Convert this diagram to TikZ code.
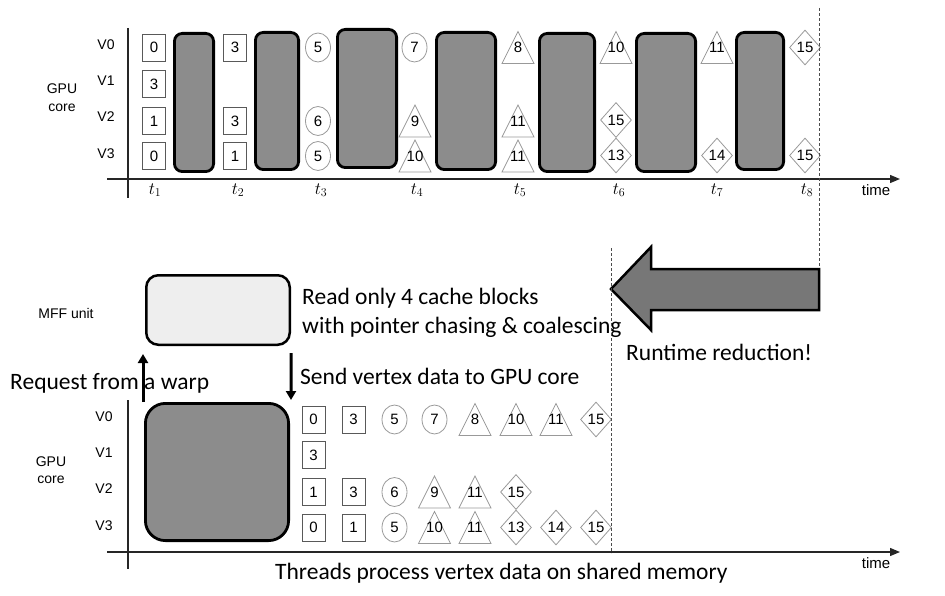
\documentclass[tikz,border=0pt]{standalone}
\usepackage[no-math]{fontspec}
\setmainfont{Liberation Sans}
\newfontfamily\calib{Carlito}
\usetikzlibrary{shapes.geometric,arrows.meta}

\definecolor{blockgray}{HTML}{8C8C8C}
\definecolor{arrowgray}{HTML}{777777}
\definecolor{unitfill}{HTML}{EEEEEE}

\tikzset{
  lbl/.style={font=\fontsize{14}{18}\selectfont, inner sep=0},
  num/.style={font=\fontsize{15}{15}\selectfont, inner sep=0},
  sqbox/.style={rectangle, draw=black!65, line width=0.8, minimum width=23, minimum height=27, inner sep=0, font=\fontsize{15}{15}\selectfont},
  circbox/.style={ellipse, draw=black!40, line width=0.8, minimum width=25, minimum height=29, inner sep=0, font=\fontsize{15}{15}\selectfont},
  diabox/.style={diamond, draw=black!40, line width=0.8, minimum width=31, minimum height=35, inner sep=0, font=\fontsize{15}{15}\selectfont},
  triline/.style={draw=black!40, line width=0.8},
  gblock/.style={rectangle, draw=black, line width=2.8, fill=blockgray, rounded corners=8, inner sep=0},
  axisline/.style={draw=black!85, line width=1.3},
  axisarrow/.style={axisline, -{Triangle[length=10,width=8]}},
  dashline/.style={draw=black!70, line width=1, dash pattern=on 3pt off 2pt},
  callout/.style={font=\calib\fontsize{23.5}{28}\selectfont, inner sep=0, anchor=base west},
  tlabel/.style={font=\fontsize{18.5}{20}\selectfont, inner sep=0},
  blkarrow/.style={draw=black, line width=3, -{Triangle[length=9,width=10]}},
}

% triangle marker: name, x, row centre, text
\newcommand\trimark[4]{%
  \draw[triline] (#2-16,#3+16) -- (#2,#3-16) -- (#2+16,#3+16) -- cycle;
  \node[num] (#1) at (#2,#3) {#4};}
% rounded busy block: name, x1, y1, x2, y2
\newcommand\busyblock[5]{%
  \node[gblock, minimum width={#4-#2-2.8}, minimum height={#5-#3-2.8}] (#1) at ({(#2+#4)/2},{(#3+#5)/2}) {};}

\begin{document}
\begin{tikzpicture}[x=1pt,y=-1pt]
\useasboundingbox (0,0) rectangle (945,596);

% ---------------- upper timeline ----------------
\coordinate (ta0) at (107,179);
\coordinate (ta1) at (900,179);
\coordinate (tv0) at (128,28);
\coordinate (tv1) at (128,198);
\draw[axisarrow] (ta0) -- (ta1);
\draw[axisline] (tv0) -- (tv1);

\node[lbl] (tV0) at (106,45) {V0};
\node[lbl] (tV1) at (106,81) {V1};
\node[lbl] (tV2) at (106,117) {V2};
\node[lbl] (tV3) at (106,154) {V3};
\node[lbl, align=center] (tgpu) at (62,98) {GPU\\core};

\foreach \n/\x in {1/155,2/238,3/321,4/417,5/520,6/619,7/717,8/807}
  \node[tlabel] (tt\n) at (\x,190) {$t_{\n}$};
\node[lbl, font=\fontsize{15}{18}\selectfont] (ttime) at (876,190) {time};

% busy periods
\busyblock{b1}{173}{32}{215}{173}
\busyblock{b2}{254}{31}{300}{171}
\busyblock{b3}{336}{28}{398}{169}
\busyblock{b4}{435}{31}{497}{171}
\busyblock{b5}{538}{32}{596}{173}
\busyblock{b6}{635}{32}{697}{173}
\busyblock{b7}{735}{31}{785}{171}

% t1
\node[sqbox] (u11) at (154,47.5) {0};
\node[sqbox] (u12) at (154,84) {3};
\node[sqbox] (u13) at (154,121) {1};
\node[sqbox] (u14) at (154,156) {0};
% t2
\node[sqbox] (u21) at (235,47.5) {3};
\node[sqbox] (u23) at (235,121) {3};
\node[sqbox] (u24) at (235,156) {1};
% t3
\node[circbox] (u31) at (318,47.5) {5};
\node[circbox] (u33) at (318,121) {6};
\node[circbox] (u34) at (318,156) {5};
% t4
\node[circbox] (u41) at (414.5,47.5) {7};
\trimark{u43}{415}{121}{9}
\trimark{u44}{415}{156}{10}
% t5
\trimark{u51}{518}{47.5}{8}
\trimark{u53}{518}{121}{11}
\trimark{u54}{518}{156}{11}
% t6
\trimark{u61}{616}{47.5}{10}
\node[diabox] (u63) at (616,120) {15};
\node[diabox] (u64) at (616,155.5) {13};
% t7
\trimark{u71}{717}{47.5}{11}
\node[diabox] (u74) at (717,155.5) {14};
% t8
\node[diabox] (u81) at (805,47.5) {15};
\node[diabox] (u84) at (805,155.5) {15};

% end of the original run
\coordinate (d0) at (819,8);
\coordinate (d1) at (819,268);
\draw[dashline] (d0) -- (d1);

% ---------------- runtime reduction arrow ----------------
\draw[draw=black, line width=2.5, fill=arrowgray, line join=miter]
  (611,289) -- (651,247) -- (651,269) -- (819,269) -- (819,310) -- (651,310) -- (651,330) -- cycle;
\node[callout] (rt) at (626,360) {Runtime reduction!};

% ---------------- MFF unit ----------------
\node[rectangle, draw=black, line width=2.5, fill=unitfill, rounded corners=12,
      minimum width=143.5, minimum height=69.5, inner sep=0] (mff) at (218,310) {};
\node[lbl, font=\fontsize{14}{16}\selectfont] (mfflbl) at (66,313) {MFF unit};
\node[callout] (rd1) at (302,304) {Read only 4 cache blocks};
\node[callout] (rd2) at (302,333) {with pointer chasing \& coalescing};

\node[callout] (req) at (10,389) {Request from a warp};
\node[callout] (snd) at (300,384) {Send vertex data to GPU core};

% ---------------- lower timeline ----------------
\coordinate (ba0) at (107,552);
\coordinate (ba1) at (900,552);
\coordinate (bv0) at (128,400);
\coordinate (bv1) at (128,569);
\draw[axisarrow] (ba0) -- (ba1);
\draw[axisline] (bv0) -- (bv1);

\node[lbl] (bV0) at (104,417) {V0};
\node[lbl] (bV1) at (104,453) {V1};
\node[lbl] (bV2) at (104,489) {V2};
\node[lbl] (bV3) at (104,526) {V3};
\node[lbl, align=center, font=\fontsize{14}{17}\selectfont] (bgpu) at (51,470) {GPU\\core};
\node[lbl, font=\fontsize{15}{18}\selectfont] (btime) at (876,563) {time};

\node[gblock, rounded corners=20, minimum width=143.2, minimum height=137.2] (core) at (217,472) {};

% request and reply between the core and the MFF unit
\draw[blkarrow] ([xshift=-1]core.north west) -- ([xshift=-2,yshift=-8]mff.south west);
\draw[blkarrow] ([yshift=-7]mff.south east) -- ([xshift=1,yshift=2]core.north east);

% V0
\node[sqbox] (w11) at (313.5,419.5) {0};
\node[sqbox] (w12) at (353.5,419.5) {3};
\node[circbox] (w13) at (394.5,419.5) {5};
\node[circbox] (w14) at (434.5,419.5) {7};
\trimark{w15}{475}{419.5}{8}
\trimark{w16}{516}{419.5}{10}
\trimark{w17}{556}{419.5}{11}
\node[diabox] (w18) at (596,419.5) {15};
% V1
\node[sqbox] (w21) at (313.5,455) {3};
% V2
\node[sqbox] (w31) at (313.5,492) {1};
\node[sqbox] (w32) at (353.5,492) {3};
\node[circbox] (w33) at (394.5,492) {6};
\trimark{w34}{434.5}{492}{9}
\trimark{w35}{475}{492}{11}
\node[diabox] (w36) at (516,492) {15};
% V3
\node[sqbox] (w41) at (313.5,527.5) {0};
\node[sqbox] (w42) at (353.5,527.5) {1};
\node[circbox] (w43) at (394.5,527.5) {5};
\trimark{w44}{434.5}{527.5}{10}
\trimark{w45}{475}{527.5}{11}
\node[diabox] (w46) at (516,527.5) {13};
\node[diabox] (w47) at (556,527.5) {14};
\node[diabox] (w48) at (596,527.5) {15};

\coordinate (e0) at (611,248);
\coordinate (e1) at (611,553);
\draw[dashline] (e0) -- (e1);

\node[callout] (thr) at (275,579) {Threads process vertex data on shared memory};
\end{tikzpicture}
\end{document}
